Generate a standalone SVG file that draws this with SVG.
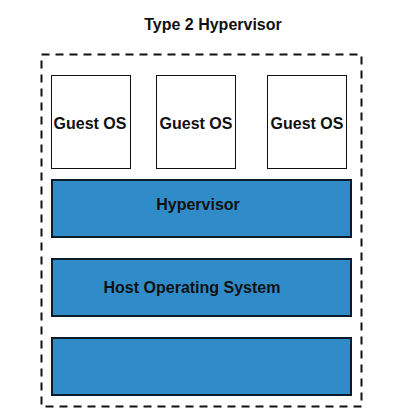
<svg xmlns="http://www.w3.org/2000/svg" width="400" height="419" viewBox="0 0 400 419">
<style>
text{font-family:"Liberation Sans",Arial,sans-serif;font-weight:bold;fill:#111;text-anchor:middle}
.g{fill:#fff;stroke:#111;stroke-width:1}
.b{fill:#2f8cc8;stroke:#0a1a2a;stroke-width:2}
</style>
<rect width="400" height="419" fill="#fff"/>
<text x="213" y="30" font-size="16">Type 2 Hypervisor</text>
<rect id="container" x="41.5" y="54.5" width="320" height="352" fill="none" stroke="#111" stroke-width="2" stroke-dasharray="8,6"/>
<g id="guest1"><rect class="g" x="51.5" y="75.5" width="79" height="93"/><text x="90" y="129" font-size="16">Guest OS</text></g>
<g id="guest2"><rect class="g" x="156.5" y="75.5" width="79" height="93"/><text x="196" y="129" font-size="16">Guest OS</text></g>
<g id="guest3"><rect class="g" x="267.5" y="75.5" width="79" height="93"/><text x="307" y="129" font-size="16">Guest OS</text></g>
<g id="hypervisor"><rect class="b" x="52" y="180" width="299" height="57"/><text x="198" y="210" font-size="16">Hypervisor</text></g>
<g id="hostos"><rect class="b" x="52" y="259" width="299" height="57"/><text x="192" y="293" font-size="16">Host Operating System</text></g>
<g id="hardware"><rect class="b" x="52" y="338" width="299" height="57"/></g>
<g id="connectors"/>
</svg>
